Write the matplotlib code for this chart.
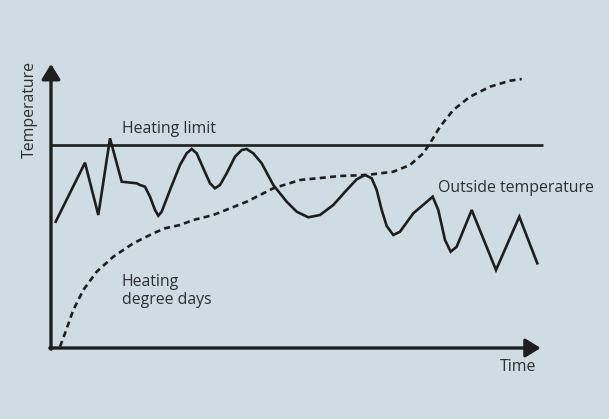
import matplotlib
matplotlib.use("Agg")
import matplotlib.pyplot as plt

# time / temperature in chart units (origin at the axes corner)
outside_time = [4.7, 34, 47.3, 59, 70.7, 85.7, 89, 94, 99, 104, 107.3, 110.7, 119, 129, 135.7,
                140.7, 145.7, 152.3, 159, 164, 169, 175.7, 184, 190.7, 195.7, 202.3, 210.7,
                222.3, 235.7, 245.7, 257.3, 269, 282.3, 295.7, 305.7, 314, 320.7, 325.7, 330.7,
                335.7, 342.3, 349, 362.3, 381.7, 387.3, 394, 399.7, 405.7, 420.7, 445, 468.3,
                486.3]
outside_temp = [126.3, 185.3, 133, 209.7, 166.3, 164.7, 163, 161.3, 151.3, 138, 132.3, 136.3,
                158, 183, 194.7, 199, 194.7, 179.7, 164.7, 159.7, 163, 174.7, 191.3, 198, 199,
                194.7, 184.7, 163, 146.3, 136.3, 130.7, 133, 143, 158, 168.7, 173, 169.7, 158,
                138, 122, 113, 116.3, 134.7, 151.3, 138, 108, 96.3, 101.3, 138, 78, 131.3, 84.7]

hdd_time = [9, 14, 22.3, 32.3, 45.7, 62.3, 82.3, 102.3, 114, 129, 142.3, 162.3, 195.7, 222.3,
            249, 289, 315.7, 342.3, 359, 372.3, 379, 389, 402.3, 419, 439, 459, 470.7]
hdd_value = [1.3, 14.7, 38, 58, 76.3, 91.3, 104.7, 114.7, 119.7, 123, 128, 133, 146.3, 159.7,
             168, 172, 173, 176.3, 183, 194.7, 204.7, 221.3, 238, 251.3, 261.3, 267.3, 269]

heating_limit = 203
limit_end = 491.7
axis_x_end = 489.7
axis_y_end = 284

bg = "#cfdce4"
ink = "#1e1e1e"
txt = "#2e2e2e"

fig = plt.figure(figsize=(6.09, 4.19), dpi=100, facecolor=bg)
ax = fig.add_axes([0, 0, 1, 1])
ax.set_facecolor(bg)
ax.set_xlim(-51, 558)
ax.set_ylim(-71, 348)
ax.axis("off")

# axes with arrow heads
arrow = dict(arrowstyle="-|>,head_length=0.65,head_width=0.4", lw=2.4, color=ink,
             shrinkA=0, shrinkB=0, mutation_scale=14)
ax.annotate("", xy=(axis_x_end, 0), xytext=(-1.2, 0), arrowprops=arrow)
ax.annotate("", xy=(0, axis_y_end), xytext=(0, -1.2), arrowprops=arrow)

ax.plot([0, limit_end], [heating_limit, heating_limit], color=ink, lw=1.9, solid_capstyle="butt")
ax.plot(outside_time, outside_temp, color=ink, lw=1.9, solid_joinstyle="miter")
ax.plot(hdd_time, hdd_value, color=ink, lw=1.9, dashes=(2.3, 1.6))

font = dict(family=["Open Sans", "DejaVu Sans"], size=11.4, color=txt)
ax.text(70.7, 211, "Heating limit", ha="left", va="bottom", **font)
ax.text(386.7, 160.3, "Outside temperature", ha="left", va="center", **font)
ax.text(70.7, 57, "Heating\ndegree days", ha="left", va="center", linespacing=1.2, **font)
ax.text(485.7, -18.7, "Time", ha="right", va="center", **font)
ax.text(-21, 238, "Temperature", ha="center", va="center", rotation=90, **font)

fig.savefig("out.png", dpi=100, facecolor=bg)
